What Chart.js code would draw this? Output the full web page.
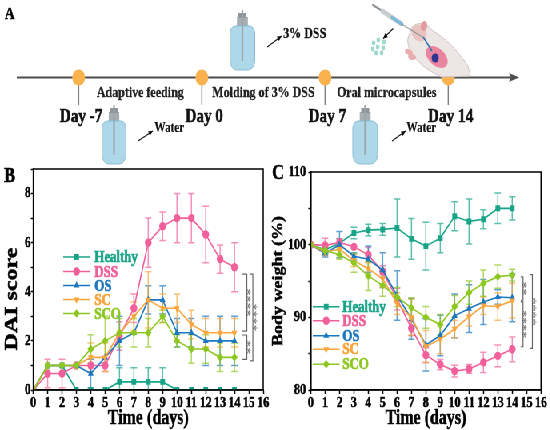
<!DOCTYPE html>
<html>
<head>
<meta charset="utf-8">
<script src="https://cdn.jsdelivr.net/npm/chart.js@4.4.0/dist/chart.umd.min.js"></script>
<style>
  html, body { margin:0; padding:0; background:#fff; overflow:hidden; }
  /* the original figure is squeezed horizontally, so draw wide and squeeze */
  #wrap { position:relative; width:688px; height:430px; transform:scaleX(0.8); transform-origin:0 0; }
  canvas { position:absolute; }
</style>
</head>
<body>
<div id="wrap">
  <canvas id="timeline" width="688" height="170" style="left:0;top:0"></canvas>
  <canvas id="daiChart" width="344" height="270" style="left:0;top:160px"></canvas>
  <canvas id="bwChart" width="352" height="270" style="left:336px;top:160px"></canvas>
</div>
<script>
// ---------------- data ----------------
const days = [0,1,2,3,4,5,6,7,8,9,10,11,12,13,14];
const groups = ['Healthy','DSS','OS','SC','SCO'];
const groupColors = ['#17a488','#f2609b','#1a77c0','#fba53b','#8dc820'];
const markers = ['rect','circle','triangle','triangle','rectRot'];
const markerRot = [0,0,0,180,0];

// DAI score
const daiHealthy = [0,1,1,0,0,0,0.33,0.33,0.33,0.33,0,0,0,0,0];
const daiDSS     = [0,0.67,0.67,1,1,1,2.2,3.33,6,6.67,7,7,6.33,5.33,5];
const daiOS      = [0,1,1,1,0.67,1.33,2,2.33,3.67,3.67,2.33,2.33,2,2,2];
const daiSC      = [0,1,1,1,1.33,1.33,2.33,3,3.67,3.33,3.33,2.67,2.33,2.33,2.33];
const daiSCO     = [0,1,1,1,1.67,2,2.33,2.33,2.33,3,2,1.67,1.67,1.33,1.33];
const daiHealthyErr = [0,0,0,0,0,0,0.58,0.58,0.58,0.58,0,0,0,0,0];
const daiDSSErr     = [0,0.58,0.58,0,0,0.25,0.58,0.58,1,0.58,1,1,1.15,0.58,1];
const daiOSErr      = [0,0,0,0,0.58,0,1,0,0.58,0.58,0.58,0.58,1,1,1];
const daiSCErr      = [0,0,0,0,0.58,0.58,0,0.58,1.15,0.58,0.58,0.58,0.58,0.58,0.58];
const daiSCOErr     = [0,0,0,0,0.58,1,0.58,0.58,0.58,0.25,0.25,0.58,0.58,0.58,0.58];

// body weight (%)
const bwHealthy = [100,99.3,100.2,101.6,102,102.1,102.3,100.8,99.8,100.9,103.9,103.2,103.5,105,105];
const bwDSS     = [100,99.9,100.3,99.7,98.6,96.3,92.5,88.5,84.8,83.5,82.6,82.9,83.8,84.7,85.6];
const bwOS      = [100,98.8,100,98.4,98,96.5,93,89.8,86.2,87.5,90.2,91.2,92.1,92.8,92.7];
const bwSC      = [100,99,99.4,97.8,96.7,95.3,91.9,90,86,87,88.4,90.1,91.6,91.5,92.3];
const bwSCO     = [100,99.2,98.6,97.5,95.7,94.4,92.8,91.3,90,89,91.5,93.4,94.7,95.6,95.8];
const bwHealthyErr = [0,0.5,0.6,0.8,0.8,0.8,4,2.8,3.3,2,2,3.1,1.3,2.1,1.6];
const bwDSSErr     = [0,1,0.5,0,1,0.8,1.5,1,1,0.7,0.8,0.6,1.4,1.5,1.7];
const bwOSErr      = [0,0.5,1.8,0.5,1.8,2.4,3.4,2.8,3.6,2.8,3,3.3,3.1,1,3.3];
const bwSCErr      = [0,0.5,0.8,0.8,0.8,1.2,1.5,2.5,2.2,2,1.2,1.3,1.2,1.9,2.4];
const bwSCOErr     = [0,0.5,0.6,1.3,2,1.5,1.3,1.4,1.5,1.4,1.5,1.6,1.8,1.6,0.8];

// significance brackets (x in days, y in axis units)
const daiBrackets = [
  {x:14.86, x0:14.55, y1:4.72, y2:2.40, label:'****'},
  {x:14.86, x0:14.55, y1:2.24, y2:1.25, label:'**'},
  {x:15.28, x0:15.05, y1:4.72, y2:1.19, label:'****'}
];
const bwBrackets = [
  {x:14.75, x0:14.59, y1:95.56, y2:92.35, label:'**'},
  {x:14.75, x0:14.59, y1:92.15, y2:85.95, label:'****'},
  {x:15.40, x0:15.24, y1:95.87, y2:85.72, label:'****'}
];

// timeline
const tlDays = [-7, 0, 7, 14];
const tlDayLabels = ['Day -7','Day 0','Day 7','Day 14'];
const tlPhases = ['Adaptive feeding','Molding of 3% DSS','Oral microcapsules'];

const serif = '"Liberation Serif", "Times New Roman", serif';

// ---------------- helpers ----------------
function makeSets(values, errors){
  return groups.map((g,i)=>({
    label: g,
    data: days.map((d,j)=>({x:d, y:values[i][j]})),
    errors: errors[i],
    borderColor: groupColors[i],
    backgroundColor: groupColors[i],
    borderWidth: 1.6,
    pointStyle: markers[i],
    pointRotation: markerRot[i],
    pointRadius: 4.2,
    pointBorderWidth: 0,
    pointBackgroundColor: groupColors[i],
    order: groups.length - i
  }));
}

// heavier bold text, like the original print
function boldText(ctx, text, x, y, color, w){
  ctx.fillStyle = color;
  ctx.fillText(text, x, y);
  ctx.strokeStyle = color;
  ctx.lineWidth = w || 0.6;
  ctx.strokeText(text, x, y);
}

// error bars under the lines
const errorBars = {
  id: 'errorBars',
  beforeDatasetsDraw(chart){
    const {ctx, chartArea, scales:{x, y}} = chart;
    ctx.save();
    ctx.beginPath();
    ctx.rect(chartArea.left, chartArea.top - 2, chartArea.width, chartArea.height + 2);
    ctx.clip();
    chart.data.datasets.forEach(ds=>{
      ctx.strokeStyle = ds.borderColor;
      ctx.globalAlpha = 0.7;
      ctx.lineWidth = 1.5;
      ds.data.forEach((p,j)=>{
        const e = ds.errors[j];
        if(!e) return;
        const px = x.getPixelForValue(p.x);
        const top = y.getPixelForValue(p.y + e);
        const bot = y.getPixelForValue(p.y - e);
        ctx.beginPath();
        ctx.moveTo(px, top); ctx.lineTo(px, bot);
        ctx.moveTo(px-4, top); ctx.lineTo(px+4, top);
        ctx.moveTo(px-4, bot); ctx.lineTo(px+4, bot);
        ctx.stroke();
      });
    });
    ctx.restore();
  }
};

// frame round the plot
const frame = {
  id: 'frame',
  afterDraw(chart){
    const {ctx, chartArea:a} = chart;
    ctx.save();
    ctx.strokeStyle = '#000';
    ctx.lineWidth = 1.5;
    ctx.strokeRect(a.left, a.top, a.width, a.height);
    ctx.restore();
  }
};

// axis titles
const axisTitles = {
  id: 'axisTitles',
  afterDraw(chart, args, o){
    const {ctx, chartArea:a} = chart;
    ctx.save();
    ctx.textAlign = 'center';
    ctx.textBaseline = 'middle';
    ctx.font = 'bold 20px ' + serif;
    boldText(ctx, 'Time (days)', (a.left + a.right)/2, a.bottom + 29, '#000', 0.5);
    ctx.translate(o.cx, o.cy === undefined ? (a.top + a.bottom)/2 : o.cy);
    ctx.rotate(-Math.PI/2);
    ctx.font = 'bold ' + o.size + 'px ' + serif;
    boldText(ctx, o.text, 0, 0, '#000', 0.5);
    ctx.restore();
  }
};

function marker(ctx, i, x, y, r){
  if (Chart.helpers && Chart.helpers.drawPoint) {
    Chart.helpers.drawPoint(ctx, {pointStyle: markers[i], rotation: markerRot[i], radius: r, borderWidth: 0}, x, y);
  } else {
    ctx.beginPath(); ctx.arc(x, y, r, 0, Math.PI*2); ctx.fill();
  }
}

// legend inside the plot
const innerLegend = {
  id: 'innerLegend',
  afterDraw(chart, args, o){
    const ctx = chart.ctx;
    ctx.save();
    ctx.font = 'bold 16px ' + serif;
    ctx.textBaseline = 'middle';
    groups.forEach((g,i)=>{
      const y = o.rows[i];
      ctx.strokeStyle = groupColors[i];
      ctx.fillStyle = groupColors[i];
      ctx.lineWidth = 1.6;
      ctx.beginPath(); ctx.moveTo(o.x1, y); ctx.lineTo(o.x2, y); ctx.stroke();
      marker(ctx, i, (o.x1 + o.x2)/2, y, 4.2);
      boldText(ctx, g, o.tx, y + 1, groupColors[i], 0.7);
    });
    ctx.restore();
  }
};

// significance brackets with stars
const brackets = {
  id: 'brackets',
  afterDraw(chart, args, o){
    const {ctx, scales:{x, y}} = chart;
    ctx.save();
    ctx.strokeStyle = '#666';
    ctx.fillStyle = '#666';
    ctx.lineWidth = 1.2;
    ctx.font = '14px ' + serif;
    o.list.forEach(b=>{
      const bx = x.getPixelForValue(b.x), b0 = x.getPixelForValue(b.x0);
      const y1 = y.getPixelForValue(b.y1), y2 = y.getPixelForValue(b.y2);
      ctx.beginPath();
      ctx.moveTo(b0, y1); ctx.lineTo(bx, y1); ctx.lineTo(bx, y2); ctx.lineTo(b0, y2);
      ctx.stroke();
      ctx.save();
      ctx.translate(bx + 3 + 6.5, (y1 + y2)/2);
      ctx.rotate(-Math.PI/2);
      ctx.textAlign = 'center';
      ctx.textBaseline = 'alphabetic';
      ctx.fillText(b.label, 0, 0);
      ctx.restore();
    });
    ctx.restore();
  }
};

// panel letter
const panelLetter = {
  id: 'panelLetter',
  afterDraw(chart, args, o){
    const ctx = chart.ctx;
    ctx.save();
    ctx.font = 'bold ' + o.size + 'px ' + serif;
    ctx.textBaseline = 'alphabetic';
    boldText(ctx, o.text, o.x, o.y, '#000', 0.6);
    ctx.restore();
  }
};

function axisOpts(min, max, step, labelEvery, width, tickPad){
  const tickFont = {family: serif, size: 15, weight: 'bold'};
  return {
    x: {
      type: 'linear', min: 0, max: 16,
      afterFit: s => { s.height = 40; },
      ticks: {stepSize: 1, autoSkip: false, maxRotation: 0, padding: 0, color: '#000', font: tickFont,
              textStrokeColor: '#000', textStrokeWidth: 0.5},
      grid: {drawOnChartArea: false, tickLength: 4, tickWidth: 1.5, tickColor: '#000', color: '#000'},
      border: {color: '#000', width: 1.5}
    },
    y: {
      min: min, max: max,
      afterFit: s => { s.width = width; },
      ticks: {stepSize: step, padding: tickPad, color: '#000', font: tickFont,
              textStrokeColor: '#000', textStrokeWidth: 0.5,
              callback: v => (Math.round(v) % labelEvery === 0 ? v : '')},
      grid: {drawOnChartArea: false, tickLength: 3, tickWidth: 1.5, tickColor: '#000', color: '#000'},
      border: {color: '#000', width: 1.5}
    }
  };
}

// ---------------- DAI chart (B) ----------------
new Chart(document.getElementById('daiChart'), {
  type: 'line',
  data: {datasets: makeSets([daiHealthy, daiDSS, daiOS, daiSC, daiSCO],
                            [daiHealthyErr, daiDSSErr, daiOSErr, daiSCErr, daiSCOErr])},
  options: {
    responsive: false, animation: false, events: [],
    layout: {padding: {top: 8, right: 15, left: 0, bottom: 0}},
    scales: axisOpts(0, 9, 1, 2, 41.6, 0),
    plugins: {
      legend: {display: false}, tooltip: {enabled: false},
      axisTitles: {text: 'DAI score', size: 24, cx: 14.4, cy: 139},
      innerLegend: {x1: 79, x2: 112.5, tx: 118, rows: [97, 111.5, 125.5, 139.5, 153.5]},
      brackets: {list: daiBrackets},
      panelLetter: {text: 'B', x: 5, y: 22, size: 21}
    }
  },
  plugins: [errorBars, frame, axisTitles, innerLegend, brackets, panelLetter]
});

// ---------------- body weight chart (C) ----------------
new Chart(document.getElementById('bwChart'), {
  type: 'line',
  data: {datasets: makeSets([bwHealthy, bwDSS, bwOS, bwSC, bwSCO],
                            [bwHealthyErr, bwDSSErr, bwOSErr, bwSCErr, bwSCOErr])},
  options: {
    responsive: false, animation: false, events: [],
    layout: {padding: {top: 8, right: 11.75, left: 0, bottom: 0}},
    scales: axisOpts(80, 110, 5, 10, 52.4, 3),
    plugins: {
      legend: {display: false}, tooltip: {enabled: false},
      axisTitles: {text: 'Body weight (%)', size: 18, cx: 12.75},
      innerLegend: {x1: 55, x2: 88.5, tx: 92, rows: [146.7, 160.7, 175.7, 189.3, 204.3]},
      brackets: {list: bwBrackets},
      panelLetter: {text: 'C', x: 4, y: 19, size: 21}
    }
  },
  plugins: [errorBars, frame, axisTitles, innerLegend, brackets, panelLetter]
});

// ---------------- timeline (A) ----------------
function arrow(ctx, x1, y1, x2, y2){
  const a = Math.atan2(y2 - y1, x2 - x1);
  ctx.beginPath(); ctx.moveTo(x1, y1); ctx.lineTo(x2, y2); ctx.stroke();
  ctx.beginPath();
  ctx.moveTo(x2, y2);
  ctx.lineTo(x2 - 6*Math.cos(a - 0.45), y2 - 6*Math.sin(a - 0.45));
  ctx.lineTo(x2 - 6*Math.cos(a + 0.45), y2 - 6*Math.sin(a + 0.45));
  ctx.closePath(); ctx.fill();
}

function bottle(ctx, x, top, w, h){
  const cx = x + w/2;
  ctx.save();
  // neck and cap
  ctx.fillStyle = '#a7aeb2';
  ctx.fillRect(cx - w*0.22, top + 4, w*0.44, 9);
  ctx.fillStyle = '#8e9497';
  ctx.fillRect(cx - w*0.16, top, w*0.32, 5);
  // body
  ctx.fillStyle = '#aed8ea';
  ctx.strokeStyle = '#86bcd2';
  ctx.lineWidth = 1;
  ctx.beginPath();
  ctx.roundRect(x, top + 13, w, h - 13, [7, 7, 9, 9]);
  ctx.fill(); ctx.stroke();
  // straw
  ctx.strokeStyle = '#9aa3a7';
  ctx.lineWidth = 2.2;
  ctx.beginPath(); ctx.moveTo(cx, top - 3); ctx.lineTo(cx, top + h - 9); ctx.stroke();
  ctx.restore();
}

function mouseArt(ctx){
  ctx.save();
  // body
  ctx.fillStyle = '#ece7e5';
  ctx.strokeStyle = '#cdc3c0';
  ctx.lineWidth = 1;
  ctx.beginPath();
  ctx.moveTo(515, 27);
  ctx.bezierCurveTo(525, 20, 535, 25, 540, 30);
  ctx.bezierCurveTo(555, 38, 570, 48, 585, 66);
  ctx.lineTo(588, 76);
  ctx.lineTo(552, 77);
  ctx.bezierCurveTo(540, 72, 530, 68, 524, 62);
  ctx.bezierCurveTo(515, 56, 508, 46, 510, 38);
  ctx.closePath();
  ctx.fill(); ctx.stroke();
  // head and ears
  ctx.fillStyle = '#e8c3c0';
  ctx.beginPath(); ctx.ellipse(524, 33, 10, 8, 0.5, 0, Math.PI*2); ctx.fill();
  ctx.fillStyle = '#e49aa2';
  ctx.beginPath(); ctx.ellipse(530, 26, 4, 5, 0.3, 0, Math.PI*2); ctx.fill();
  // paws
  ctx.fillStyle = '#e8aeae';
  ctx.beginPath(); ctx.ellipse(511, 52, 5, 3, 0.3, 0, Math.PI*2); ctx.fill();
  ctx.beginPath(); ctx.ellipse(515, 57, 5, 3, 0.2, 0, Math.PI*2); ctx.fill();
  // organ
  ctx.fillStyle = '#e9859f';
  ctx.beginPath(); ctx.ellipse(546, 57, 15, 9, 0.55, 0, Math.PI*2); ctx.fill();
  ctx.fillStyle = '#2f3491';
  ctx.beginPath(); ctx.arc(544, 58, 4.5, 0, Math.PI*2); ctx.fill();
  // tube
  ctx.strokeStyle = '#2a6fb5';
  ctx.lineWidth = 1.5;
  ctx.beginPath(); ctx.moveTo(529, 37); ctx.lineTo(540, 51); ctx.stroke();
  // syringe
  ctx.lineCap = 'round';
  ctx.strokeStyle = '#8c9398';
  ctx.lineWidth = 2;
  ctx.beginPath(); ctx.moveTo(466, 5); ctx.lineTo(478, 11); ctx.stroke();
  ctx.strokeStyle = '#c9cdd0';
  ctx.lineWidth = 5;
  ctx.beginPath(); ctx.moveTo(478, 11); ctx.lineTo(502, 24); ctx.stroke();
  ctx.strokeStyle = '#7bb9d9';
  ctx.lineWidth = 3.5;
  ctx.beginPath(); ctx.moveTo(490, 17.5); ctx.lineTo(502, 24); ctx.stroke();
  ctx.strokeStyle = '#80878c';
  ctx.lineWidth = 1;
  ctx.beginPath(); ctx.moveTo(502, 24); ctx.lineTo(529, 37.5); ctx.stroke();
  // microcapsules
  ctx.fillStyle = '#9fd9cf';
  [[467,43],[473,40],[480,42],[466,49],[472,47],[479,48],[470,53],[477,53]].forEach(p=>{
    ctx.beginPath(); ctx.arc(p[0], p[1], 2.4, 0, Math.PI*2); ctx.fill();
  });
  ctx.strokeStyle = '#111'; ctx.fillStyle = '#111'; ctx.lineWidth = 1.2; ctx.lineCap = 'butt';
  arrow(ctx, 491.5, 28.5, 479, 38.5);
  ctx.restore();
}

const timelineDeco = {
  id: 'timelineDeco',
  beforeDatasetsDraw(chart){
    const {ctx, scales:{x, y}} = chart;
    const ly = y.getPixelForValue(0);
    ctx.save();
    ctx.strokeStyle = '#4d4d4d';
    ctx.fillStyle = '#4d4d4d';
    ctx.lineWidth = 2;
    ctx.beginPath(); ctx.moveTo(21, ly); ctx.lineTo(640, ly); ctx.stroke();
    ctx.beginPath(); ctx.moveTo(649, ly); ctx.lineTo(636, ly - 4.5); ctx.lineTo(639, ly); ctx.lineTo(636, ly + 4.5); ctx.closePath(); ctx.fill();
    ctx.strokeStyle = '#808080';
    ctx.lineWidth = 1.5;
    tlDays.forEach(d=>{
      const px = x.getPixelForValue(d);
      ctx.beginPath(); ctx.moveTo(px, ly); ctx.lineTo(px, 105); ctx.stroke();
    });
    ctx.restore();
  },
  afterDatasetsDraw(chart){
    const {ctx, scales:{x}} = chart;
    ctx.save();
    ctx.textAlign = 'center';
    ctx.textBaseline = 'middle';
    ctx.font = 'bold 19px ' + serif;
    tlDays.forEach((d,i)=> boldText(ctx, tlDayLabels[i], x.getPixelForValue(d) + 3, 117, '#111', 0.6));
    ctx.font = 'bold 15px ' + serif;
    tlPhases.forEach((p,i)=>{
      const mid = (x.getPixelForValue(tlDays[i]) + x.getPixelForValue(tlDays[i+1]))/2;
      boldText(ctx, p, mid, 93, '#222', 0.3);
    });
    // bottles, labels, arrows
    bottle(ctx, 287.5, 13, 31, 57);
    bottle(ctx, 127.5, 108, 30, 56);
    bottle(ctx, 441, 108, 31, 56);
    ctx.textAlign = 'left';
    ctx.font = 'bold 15px ' + serif;
    boldText(ctx, '3% DSS', 354, 34, '#111', 0.3);
    ctx.font = 'bold 14px ' + serif;
    boldText(ctx, 'Water', 193, 128, '#111', 0.2);
    boldText(ctx, 'Water', 508, 128, '#111', 0.2);
    ctx.strokeStyle = '#111'; ctx.fillStyle = '#111'; ctx.lineWidth = 1.2;
    arrow(ctx, 334, 47, 352, 36);
    arrow(ctx, 172.5, 141, 191, 131);
    arrow(ctx, 490, 141, 507, 131);
    mouseArt(ctx);
    // panel letter
    ctx.font = 'bold 17px ' + serif;
    boldText(ctx, 'A', 6, 15, '#000', 0.5);
    ctx.restore();
  }
};

new Chart(document.getElementById('timeline'), {
  type: 'scatter',
  data: {datasets: [{
    data: tlDays.map(d => ({x: d, y: 0})),
    pointRadius: 8, pointHoverRadius: 8,
    backgroundColor: '#f9b24e', borderWidth: 0
  }]},
  options: {
    responsive: false, animation: false, events: [],
    layout: {padding: 0},
    scales: {
      x: {display: false, min: -11.107, max: 19.44},
      y: {display: false, min: -1.216, max: 1}
    },
    plugins: {legend: {display: false}, tooltip: {enabled: false}}
  },
  plugins: [timelineDeco]
});
</script>
</body>
</html>
